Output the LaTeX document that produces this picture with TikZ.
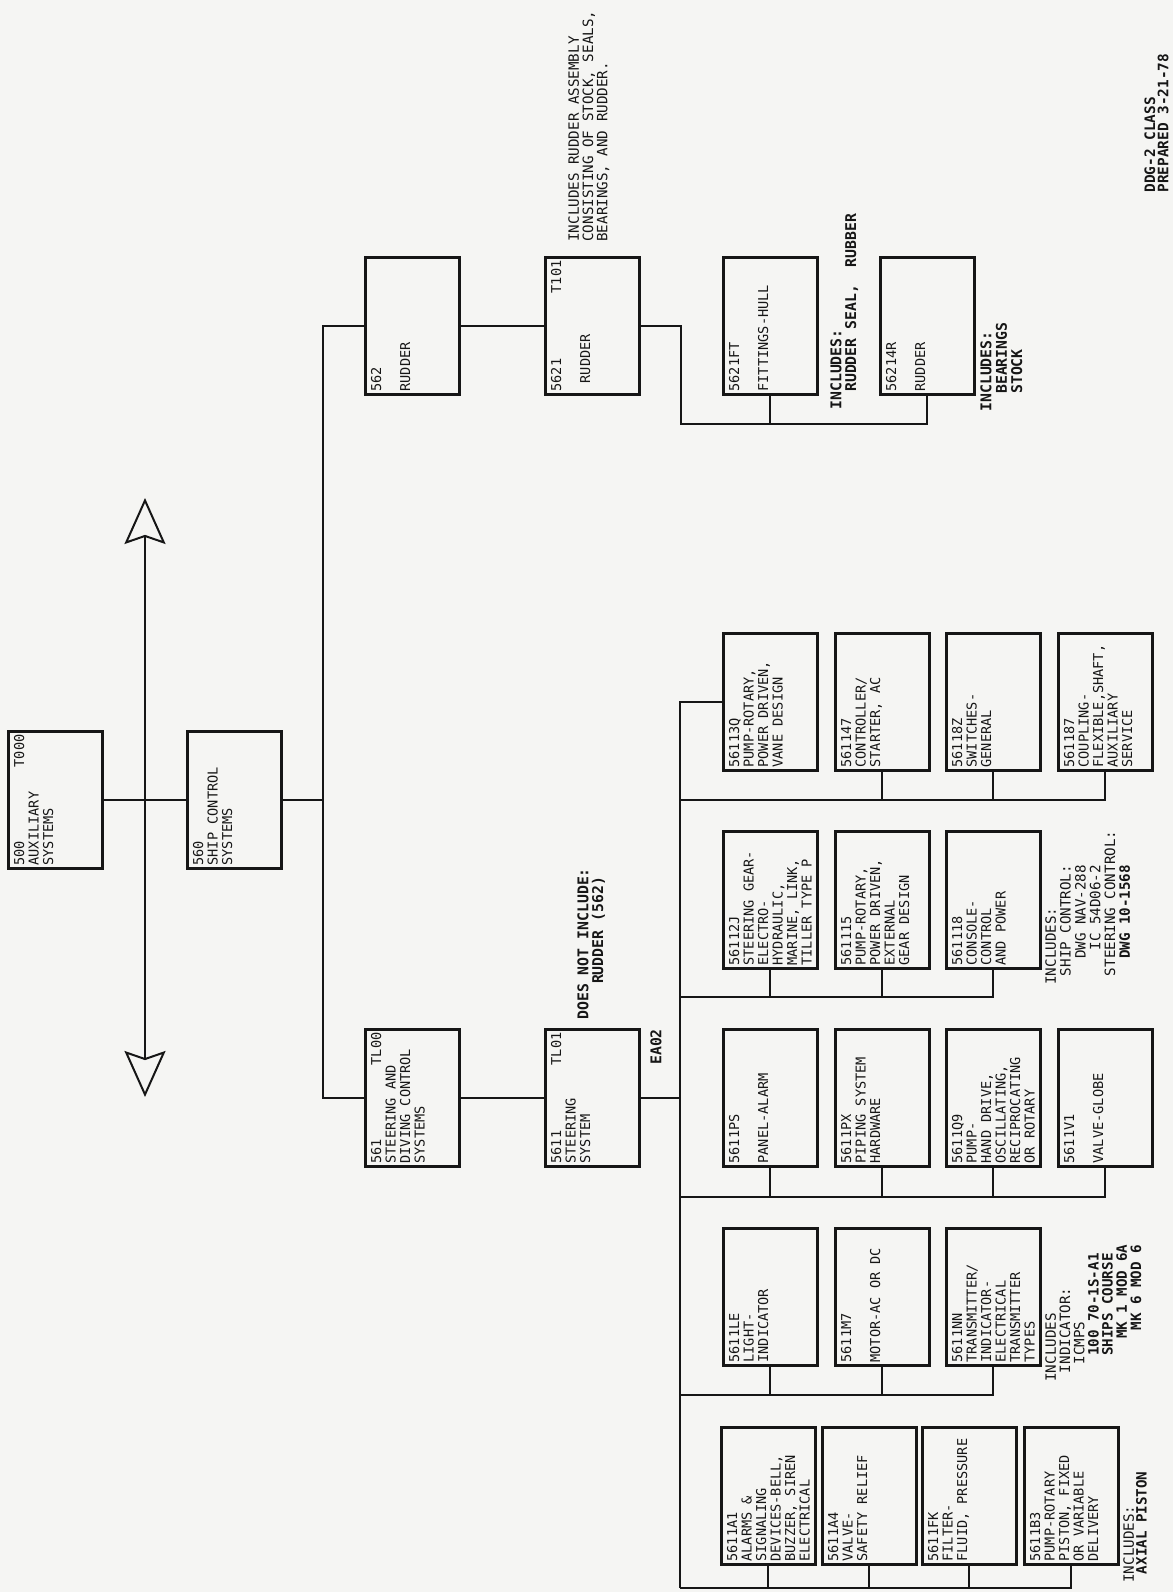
\documentclass[tikz,border=0pt]{standalone}
\usepackage{fontspec}
\newfontfamily\typer{DejaVu Sans Mono}
\usetikzlibrary{arrows.meta}
\definecolor{paper}{RGB}{245,245,243}
\definecolor{ink}{RGB}{22,22,22}
\newcommand\boxfont{\typer\fontsize{6.8pt}{7.25pt}\selectfont}
\newcommand\notefont{\typer\fontsize{7.1pt}{7.1pt}\selectfont}
\newcommand\bnotefont{\typer\bfseries\fontsize{7.4pt}{7.4pt}\selectfont}
\newcommand\wtext[1]{\parbox[t][41pt][t]{65.5pt}{\raggedright #1}}
\tikzset{
  wbs/.style={draw=ink, line width=1.5pt, inner sep=0pt, text=ink,
    minimum width=68.5pt, minimum height=47pt, font=\boxfont},
  link/.style={draw=ink, line width=1.1pt},
  note/.style={anchor=north west, inner sep=0pt, align=left, text=ink, font=\notefont},
  bnote/.style={note, font=\bnotefont},
}

\begin{document}
\begin{tikzpicture}[x=0.5pt, y=0.5pt]
% page
\fill[paper] (0,0) rectangle (1173,1592);
\useasboundingbox (0,0) rectangle (1173,1592);

% chart is laid out in landscape, then turned onto the page
\begin{scope}[shift={(1173,0)}, rotate=90, transform shape]

% ---- upper levels ----
\node[wbs] (b500)  at (792,1118) {\wtext{500\hfill T000\hspace*{2.5pt}\\AUXILIARY\\SYSTEMS}};
\node[wbs] (b560)  at (792,939)  {\wtext{560\\SHIP CONTROL\\SYSTEMS}};
\node[wbs] (b561)  at (494,761)  {\wtext{561\hfill TL00\hspace*{2.5pt}\\STEERING AND\\DIVING CONTROL\\SYSTEMS}};
\node[wbs] (b5611) at (494,581)  {\wtext{5611\hfill TL01\hspace*{2.5pt}\\STEERING\\SYSTEM}};
\node[wbs] (b562)  at (1266,761) {\wtext{562\\\mbox{}\\RUDDER}};
\node[wbs] (b5621) at (1266,581) {\wtext{5621\hfill T101\hspace*{2.5pt}\\\mbox{}\\\ RUDDER}};

\coordinate (bar561) at (494,850);
\coordinate (bar562) at (1266,850);
\draw[link] (b500) -- (b560);
\draw[link] (b560.south) -- (b560.south |- bar561);
\draw[link] (b561.north) -- (bar561) -- (bar562) -- (b562.north);
\draw[link] (b561) -- (b5611);
\draw[link] (b562) -- (b5621);

% double arrow across the top
\coordinate (arrL) at (495,1028);
\coordinate (arrR) at (1094,1028);
\draw[ink, line width=1pt,
  {Stealth[open, length=23pt, width=20.5pt, inset=3.5pt]}-{Stealth[open, length=23pt, width=20.5pt, inset=3.5pt]}]
  (arrL) -- (arrR);

% ---- rudder branch ----
\node[wbs] (b5621FT) at (1266,403) {\wtext{5621FT\\\mbox{}\\FITTINGS-HULL}};
\node[wbs] (b56214R) at (1266,246) {\wtext{56214R\\\mbox{}\\RUDDER}};
\coordinate (rudbus) at (1168,492);
\draw[link] (b5621.south) -- (b5621.south |- rudbus) -- (rudbus) |- (b56214R.west);
\draw[link] (b5621FT.west) -- (b5621FT.west -| rudbus);

% ---- steering system breakdown ----
\foreach \nm/\kx/\ky/\txt in {
    56113Q/890/403/{PUMP-ROTARY,\\POWER DRIVEN,\\VANE DESIGN},
    561147/890/291/{CONTROLLER/\\STARTER, AC},
    56118Z/890/180/{SWITCHES-\\GENERAL},
    561187/890/68/{COUPLING-\\FLEXIBLE,SHAFT,\\AUXILIARY\\SERVICE},
    56112J/692/403/{STEERING GEAR-\\ELECTRO-\\HYDRAULIC,\\MARINE, LINK,\\TILLER TYPE P},
    561115/692/291/{PUMP-ROTARY,\\POWER DRIVEN,\\EXTERNAL\\GEAR DESIGN},
    561118/692/180/{CONSOLE-\\CONTROL\\AND POWER},
    5611PS/494/403/{\mbox{}\\PANEL-ALARM},
    5611PX/494/291/{PIPING SYSTEM\\HARDWARE},
    5611Q9/494/180/{PUMP-\\HAND DRIVE,\\OSCILLATING,\\RECIPROCATING\\OR ROTARY},
    5611V1/494/68/{\mbox{}\\VALVE-GLOBE},
    5611LE/295/403/{LIGHT-\\INDICATOR},
    5611M7/295/291/{\mbox{}\\MOTOR-AC OR DC},
    5611NN/295/180/{TRANSMITTER/\\INDICATOR-\\ELECTRICAL\\TRANSMITTER\\TYPES},
    5611A1/96/405/{ALARMS \&\\SIGNALING\\DEVICES-BELL,\\BUZZER, SIREN\\ELECTRICAL},
    5611A4/96/304/{VALVE-\\SAFETY RELIEF},
    5611FK/96/204/{FILTER-\\FLUID, PRESSURE},
    5611B3/96/102/{PUMP-ROTARY\\PISTON, FIXED\\OR VARIABLE\\DELIVERY}}{
  \node[wbs] (b\nm) at (\kx,\ky) {\wtext{\nm\\\txt}};
}

% trunk under 5611 and the five column buses
\coordinate (busA) at (792,493);
\coordinate (busB) at (595,493);
\coordinate (busC) at (395,493);
\coordinate (busD) at (197,493);
\coordinate (busE) at (4,493);
\draw[link] (b56113Q.north) -- (b56113Q.north |- busE) -- (busE);
\draw[link] (b5611.south) -- (b5611.south |- busE);
\foreach \bus/\k in {busA/561187, busB/561118, busC/5611V1, busD/5611NN, busE/5611B3}
  \draw[link] (\bus) |- (b\k.west);
\foreach \k/\bus in {561147/busA, 56118Z/busA, 56112J/busB, 561115/busB,
    5611PS/busC, 5611PX/busC, 5611Q9/busC, 5611LE/busD, 5611M7/busD,
    5611A1/busE, 5611A4/busE, 5611FK/busE}
  \draw[link] (b\k.west) -- (b\k.west -| \bus);

% ---- notes ----
\node[note]  (nassy)  at (1350,605) {INCLUDES RUDDER ASSEMBLY\\CONSISTING OF STOCK, SEALS,\\BEARINGS, AND RUDDER.};
\node[bnote] (nnot)   at (572,596) {DOES NOT INCLUDE:\\\ \ \ \ RUDDER (562)};
\node[bnote, anchor=center] (nea) at (545,517) {EA02};
\node[bnote] (nseal)  at (1182,343) {INCLUDES:\\\ \ RUDDER SEAL,\ \ RUBBER};
\node[bnote, font=\typer\bfseries\fontsize{7.4pt}{7.7pt}\selectfont] (nstock) at (1180,193) {INCLUDES:\\\ \ BEARINGS\\\ \ STOCK};
\node[note, font=\typer\fontsize{7.1pt}{7.4pt}\selectfont] (nship) at (607,128)
  {INCLUDES:\\\ SHIP CONTROL:\\\ \ \ DWG NAV-288\\\ \ \ \ IC 54D06-2\\\ STEERING CONTROL:\\\ \ \ {\bfseries DWG 10-1568}};
\node[note] (nind) at (210,128)
  {INCLUDES\\\ INDICATOR:\\\ \ ICMPS\\\ \ \ {\bfseries 100 70-1S-A1}\\\ \ \ {\bfseries SHIPS COURSE}\\\ \ \ \ \ {\bfseries MK 1 MOD 6A}\\\ \ \ \ \ \ {\bfseries MK 6 MOD 6}};
\node[note, font=\typer\fontsize{7.1pt}{6.4pt}\selectfont] (npist) at (9,50) {INCLUDES:\\\ {\bfseries AXIAL PISTON}};
\node[bnote, font=\typer\bfseries\fontsize{7.2pt}{6.7pt}\selectfont] (nclass) at (1399,29) {DDG-2 CLASS\\PREPARED 3-21-78};

\end{scope}
\end{tikzpicture}
\end{document}
